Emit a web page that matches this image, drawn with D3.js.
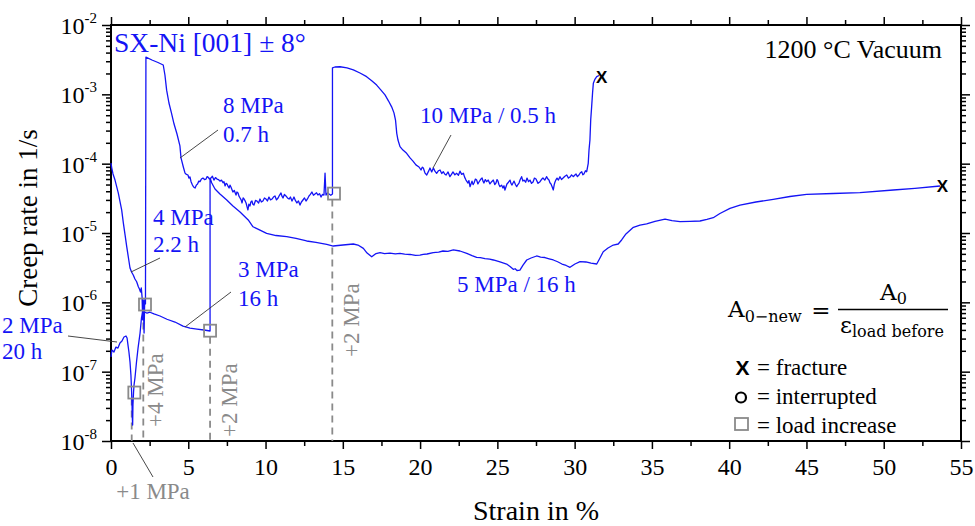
<!DOCTYPE html>
<html><head><meta charset="utf-8">
<script src="https://cdn.jsdelivr.net/npm/d3@7"></script>
<style>
body{margin:0;background:#fff}
svg text{font-family:"Liberation Serif","Times New Roman",Times,serif}
svg text.sans{font-family:"Liberation Sans",Arial,sans-serif}
svg text.math{font-family:"DejaVu Serif",serif}
</style>
</head><body>
<svg id="chart" width="975" height="526"></svg>
<script>
// ---------------- data ----------------
const strainTicks = [0, 5, 10, 15, 20, 25, 30, 35, 40, 45, 50, 55];
const strainMinorTicks = [2.5, 7.5, 12.5, 17.5, 22.5, 27.5, 32.5, 37.5, 42.5, 47.5, 52.5];
const rateExponents = [-8, -7, -6, -5, -4, -3, -2];

// Specimen A: 2 MPa (20 h), +1 MPa -> 3 MPa (16 h)   [strain %, creep rate 1/s]
const creep2to3MPa = [
  [0,1.63e-7],[0.06,2.05e-7],[0.19,1.92e-7],[0.32,2.26e-7],[0.45,2.19e-7],[0.58,2.59e-7],
  [0.71,2.77e-7],[0.84,3.16e-7],[0.97,3.27e-7],[1.04,3.06e-7],[1.10,2.42e-7],[1.16,1.92e-7],
  [1.23,1.38e-7],[1.29,8.9e-8],[1.33,5.4e-8],[1.36,3.3e-8],[1.38,2.15e-8],[1.40,1.7e-8],
  [1.42,3.3e-8],[1.46,5.1e-8],[1.49,6.4e-8],[1.55,8.1e-8],[1.65,1.38e-7],[1.75,2.19e-7],
  [1.88,3.6e-7],[1.97,5.9e-7],[2.07,7.7e-7],[2.20,7.2e-7],[2.33,7.0e-7],[2.52,7.2e-7],
  [2.78,6.8e-7],[3.17,6.35e-7],[3.62,5.7e-7],[4.14,5.2e-7],[4.66,4.55e-7],[5.11,4.26e-7],
  [5.56,4.12e-7],[6.02,3.99e-7],[6.41,3.86e-7]
];
// Specimen A after +2 MPa -> 5 MPa (16 h), up to fracture
const creep5MPa = [
  [6.41,6.2e-5],[6.52,5.26e-5],[6.73,4.31e-5],[7.05,3.65e-5],[7.49,2.99e-5],[7.89,2.45e-5],
  [8.35,2.01e-5],[8.88,1.54e-5],[9.19,1.23e-5],[9.64,1.1e-5],[10.07,9.9e-6],[10.68,9.2e-6],
  [11.37,8.85e-6],[11.97,8.34e-6],[12.66,7.67e-6],[13.26,7.3e-6],[13.96,6.87e-6],[14.38,6.49e-6],
  [15.01,6.71e-6],[15.68,6.94e-6],[15.98,6.71e-6],[16.33,6.01e-6],[16.57,5.14e-6],[16.87,4.55e-6],
  [17.15,5.06e-6],[17.41,5.2e-6],[17.7,5.05e-6],[18.05,5.14e-6],[18.4,5.0e-6],[18.70,5.09e-6],
  [19.0,4.95e-6],[19.35,4.9e-6],[19.7,4.75e-6],[19.99,4.81e-6],[20.2,4.92e-6],
  [20.45,4.98e-6],[20.85,5.2e-6],[21.2,5.3e-6],[21.48,5.5e-6],[21.8,5.45e-6],[22.15,5.69e-6],[22.58,5.5e-6],[23.02,5.09e-6],
  [23.36,4.73e-6],[23.66,4.46e-6],[23.9,4.4e-6],[24.20,4.28e-6],[24.5,4.2e-6],[24.74,4.08e-6],[25.17,3.82e-6],[25.60,3.57e-6],
  [25.82,3.29e-6],[26.03,2.99e-6],[26.15,3.05e-6],[26.27,2.88e-6],[26.46,2.92e-6],[26.66,3.45e-6],[26.90,4.08e-6],
  [27.18,4.36e-6],[27.54,4.66e-6],[27.8,4.5e-6],[28.08,4.43e-6],[28.35,4.25e-6],[28.62,4.08e-6],[28.9,3.85e-6],[29.18,3.57e-6],[29.45,3.4e-6],[29.70,3.2e-6],
  [30.02,3.57e-6],[30.35,3.86e-6],[30.73,3.82e-6],[31.06,3.69e-6],[31.43,3.57e-6],[31.64,4.36e-6],
  [31.85,5.37e-6],[32.16,6.08e-6],[32.50,6.71e-6],[32.82,6.94e-6],[33.04,7.93e-6],[33.32,9.7e-6],
  [33.80,1.21e-5],[34.23,1.3e-5],[34.66,1.35e-5],[35.20,1.47e-5],[35.85,1.59e-5],[36.30,1.51e-5],
  [36.82,1.46e-5],[37.46,1.47e-5],[38.11,1.49e-5],[38.56,1.57e-5],[38.97,1.66e-5],[39.40,1.91e-5],
  [40.05,2.27e-5],[40.70,2.53e-5],[41.73,2.8e-5],[42.85,3.06e-5],[43.93,3.36e-5],[45.01,3.61e-5],
  [46.72,3.71e-5],[48.46,3.81e-5],[50.62,4.17e-5],[52.02,4.41e-5],[53.64,4.76e-5]
];
// Specimen B: 4 MPa (2.2 h)
const creep4MPa = [
  [0,1.02e-4],[0.05,8.65e-5],[0.13,7.1e-5],[0.26,5.8e-5],[0.47,3.78e-5],[0.69,2.15e-5],
  [0.80,1.39e-5],[0.91,9.4e-6],[1.02,6.3e-6],[1.13,4.36e-6],[1.23,3.13e-6],[1.33,2.74e-6],
  [1.44,2.48e-6],[1.55,2.17e-6],[1.66,1.98e-6],[1.77,1.68e-6],[1.84,1.56e-6],[1.91,1.41e-6],
  [1.96,1.61e-6],[2.01,1.2e-6],[2.05,5.6e-7],[2.09,1.08e-6],[2.14,3.6e-7],[2.18,1.08e-6],
  [2.23,9.5e-7]
];
// Specimen B after +4 MPa -> 8 MPa (0.7 h)
const creep8MPa = [
  [2.26,3.45e-3],[2.65,3.13e-3],[3.04,2.88e-3],[3.38,2.65e-3],[3.49,1.9e-3],[3.60,1.15e-3],
  [3.75,7.5e-4],[3.91,5.4e-4],[4.08,3.73e-4],[4.27,2.68e-4],[4.46,1.8e-4],[4.53,1.21e-4],
  [4.68,8.95e-5],[4.79,7.3e-5],[4.88,7.0e-5],[4.98,6.86e-5],[5.04,6.2e-5],[5.11,6.42e-5],[5.18,5.5e-5],
  [5.27,4.92e-5],[5.35,4.6e-5],[5.44,4.45e-5],[5.52,4.9e-5],[5.60,5.1e-5],[5.68,5.6e-5],[5.76,5.5e-5],
  [5.85,6.0e-5],[5.95,6.2e-5],[6.05,5.9e-5],[6.15,6.0e-5],[6.22,6.5e-5],[6.28,6.4e-5],[6.37,6.0e-5],
  [6.47,6.2e-5],[6.56,6.6e-5],[6.66,5.8e-5],[6.76,6.3e-5],[6.86,6.0e-5],[6.95,5.9e-5],[7.05,5.6e-5],
  [7.15,5.8e-5],[7.25,5.3e-5],[7.31,5.5e-5],[7.38,4.77e-5],[7.45,5.2e-5],[7.51,5.1e-5],[7.58,4.7e-5],
  [7.64,4.45e-5],[7.70,4.9e-5],[7.76,4.6e-5],[7.83,4.2e-5],[7.89,3.9e-5],[7.98,4.1e-5],[8.09,3.53e-5],
  [8.15,3.9e-5],[8.22,3.78e-5],[8.28,3.4e-5],[8.35,3.2e-5],[8.42,3.0e-5],[8.48,2.71e-5],[8.55,3.2e-5],
  [8.61,3.09e-5],[8.68,2.9e-5],[8.74,2.71e-5],[8.80,2.4e-5],[8.86,2.15e-5],[8.92,2.6e-5],[8.99,2.45e-5],
  [9.05,2.8e-5],[9.12,2.89e-5],[9.18,2.6e-5],[9.25,2.53e-5],[9.35,2.95e-5],[9.45,2.89e-5],[9.55,2.7e-5],
  [9.64,3.09e-5],[9.73,2.8e-5],[9.83,2.89e-5],[9.93,3.2e-5],[10.03,3.09e-5],[10.12,2.9e-5],[10.22,3.3e-5],
  [10.32,3.0e-5],[10.42,3.09e-5],[10.51,3.3e-5],[10.61,3.42e-5],[10.71,3.0e-5],[10.81,3.2e-5],[10.90,3.5e-5],
  [11.00,3.78e-5],[11.06,3.4e-5],[11.13,3.2e-5],[11.22,3.6e-5],[11.32,3.42e-5],[11.42,3.2e-5],[11.52,3.09e-5],
  [11.61,3.3e-5],[11.71,2.89e-5],[11.78,3.1e-5],[11.84,3.3e-5],[11.93,2.95e-5],[12.03,2.71e-5],[12.13,2.9e-5],
  [12.23,2.53e-5],[12.32,2.8e-5],[12.42,2.99e-5],[12.52,3.2e-5],[12.62,2.89e-5],[12.71,3.1e-5],[12.81,3.42e-5],
  [12.90,3.6e-5],[13.00,3.9e-5],[13.10,3.5e-5],[13.20,3.65e-5],[13.30,3.8e-5],[13.39,3.53e-5],[13.49,3.7e-5],
  [13.59,3.3e-5],[13.68,3.6e-5],[13.78,3.53e-5],[13.85,7.3e-5],[13.91,3.53e-5],[14.01,3.8e-5],[14.11,3.65e-5],
  [14.22,3.5e-5],[14.33,3.65e-5]
];
// Specimen B after +2 MPa -> 10 MPa (0.5 h), up to fracture
const creep10MPa = [
  [14.33,2.4e-3],[14.49,2.48e-3],[14.82,2.5e-3],[15.27,2.4e-3],[15.68,2.25e-3],[16.11,2.03e-3],
  [16.54,1.8e-3],[16.89,1.56e-3],[17.19,1.36e-3],[17.47,1.15e-3],[17.73,9.8e-4],[17.96,8.0e-4],
  [18.16,6.6e-4],[18.31,5.4e-4],[18.41,4.26e-4],[18.49,2.74e-4],[18.57,2.19e-4],[18.70,1.76e-4],
  [18.89,1.57e-4],[19.13,1.41e-4],[19.35,1.21e-4],[19.54,1.09e-4],[19.73,9.6e-5],[19.93,8.95e-5],
  [20.06,8.1e-5],[20.14,8.9e-5],[20.21,8.65e-5],[20.32,7.3e-5],[20.43,6.86e-5],[20.55,7.8e-5],[20.64,8.65e-5],
  [20.75,7.6e-5],[20.86,8.65e-5],[20.96,7.8e-5],[21.07,7.26e-5],[21.18,7.9e-5],[21.29,8.1e-5],[21.40,7.2e-5],[21.50,7.66e-5],
  [21.59,7.1e-5],[21.68,6.86e-5],[21.81,7.6e-5],[21.93,6.49e-5],[22.03,7.0e-5],[22.13,7.6e-5],[22.25,6.9e-5],[22.37,7.26e-5],[22.48,6.8e-5],[22.58,7.8e-5],
  [22.69,7.0e-5],[22.80,7.26e-5],[22.88,6.4e-5],[22.97,5.8e-5],[23.10,5.26e-5],[23.16,5.7e-5],[23.23,4.66e-5],[23.36,5.6e-5],[23.43,5.0e-5],[23.49,5.26e-5],
  [23.58,6.0e-5],[23.66,5.8e-5],[23.74,5.1e-5],[23.81,5.44e-5],[23.91,5.9e-5],[24.01,6.2e-5],[24.07,5.6e-5],[24.13,5.26e-5],[24.22,5.9e-5],[24.31,5.5e-5],[24.41,5.8e-5],[24.52,5.1e-5],
  [24.63,5.5e-5],[24.74,5.8e-5],[24.83,5.0e-5],[24.91,5.26e-5],[24.98,5.9e-5],[25.04,5.6e-5],[25.10,5.0e-5],[25.17,4.66e-5],[25.27,4.9e-5],[25.36,4.45e-5],[25.43,4.8e-5],[25.49,4.17e-5],
  [25.62,5.1e-5],[25.72,5.4e-5],[25.82,5.8e-5],[25.88,5.2e-5],[25.95,4.92e-5],[26.02,5.3e-5],[26.08,5.6e-5],[26.17,5.0e-5],[26.25,4.66e-5],[26.33,5.0e-5],[26.40,5.26e-5],
  [26.48,5.9e-5],[26.57,6.49e-5],[26.65,5.6e-5],[26.73,5.8e-5],[26.83,5.4e-5],[26.92,6.2e-5],[27.02,5.5e-5],[27.11,5.8e-5],[27.21,5.2e-5],[27.31,5.44e-5],[27.40,6.2e-5],[27.50,6.0e-5],
  [27.63,5.2e-5],[27.76,5.5e-5],[27.85,5.9e-5],[27.95,6.2e-5],[28.07,5.8e-5],[28.19,6.49e-5],[28.27,6.0e-5],[28.34,5.8e-5],[28.40,5.3e-5],[28.47,5.1e-5],[28.55,4.6e-5],[28.62,4.17e-5],
  [28.68,5.0e-5],[28.73,5.44e-5],[28.80,5.9e-5],[28.86,6.2e-5],[28.95,5.8e-5],[29.05,6.49e-5],[29.15,5.9e-5],[29.25,6.2e-5],[29.37,6.6e-5],[29.49,6.86e-5],[29.60,6.2e-5],[29.70,6.42e-5],
  [29.80,6.9e-5],[29.91,6.49e-5],[30.00,6.8e-5],[30.09,7.1e-5],[30.18,6.5e-5],[30.28,6.86e-5],[30.37,7.4e-5],[30.46,7.66e-5],[30.53,6.9e-5],[30.60,7.1e-5],[30.70,7.9e-5],[30.78,7.66e-5],
  [30.88,1.01e-4],[30.93,1.57e-4],[30.99,2.19e-4],[31.04,4.26e-4],[31.10,6.6e-4],[31.16,1.05e-3],
  [31.21,1.44e-3],[31.32,1.66e-3],[31.43,1.8e-3],[31.58,1.87e-3]
];

// Load increases: marker position and the strain of the guide line below it
const loadIncreases = [
  { strain: 1.51,  rate: 5.0e-8, guideStrain: 1.34,  label: "+1 MPa" },
  { strain: 2.20,  rate: 9.3e-7, guideStrain: 2.09,  label: "+4 MPa" },
  { strain: 6.41,  rate: 3.9e-7, guideStrain: 6.41,  label: "+2 MPa" },
  { strain: 14.43, rate: 3.7e-5, guideStrain: 14.32, label: "+2 MPa" }
];
const fractures = [[31.75, 1.8e-3], [53.8, 4.8e-5]];

// ---------------- layout ----------------
const svg = d3.select("#chart");
const W = 975, H = 526;
const plot = { left: 111, right: 961, top: 25, bottom: 441 };
const blue = "#1414f5";
const grey = "#8a8a8a";

const x = d3.scaleLinear().domain([0, 55]).range([plot.left, plot.right]);
const y = d3.scaleLog().domain([1e-8, 1e-2]).range([plot.bottom, plot.top]);

svg.append("rect").attr("width", W).attr("height", H).attr("fill", "#fff");

// ---------------- axes ----------------
const majorRates = rateExponents.map(e => Math.pow(10, e));
const minorRates = [];
rateExponents.slice(0, -1).forEach(e => { for (let d = 2; d <= 9; d++) minorRates.push(d * Math.pow(10, e)); });

function styleAxis(g) {
  g.attr("font-family", null);
  g.select(".domain").remove();
  g.selectAll(".tick line").attr("stroke", "#000").attr("stroke-width", 1.5);
}
const axes = svg.append("g");
axes.append("g").attr("transform", `translate(0,${plot.bottom})`)
  .call(d3.axisBottom(x).tickValues(strainTicks).tickSize(8).tickPadding(9).tickFormat(d3.format("d")))
  .call(styleAxis)
  .call(g => g.selectAll("text").attr("font-size", 24).attr("fill", "#000"));
axes.append("g").attr("transform", `translate(0,${plot.bottom})`)
  .call(d3.axisBottom(x).tickValues(strainMinorTicks).tickSize(5).tickFormat("")).call(styleAxis);
axes.append("g").attr("transform", `translate(0,${plot.top})`)
  .call(d3.axisTop(x).tickValues(strainTicks).tickSize(8).tickFormat("")).call(styleAxis);
axes.append("g").attr("transform", `translate(0,${plot.top})`)
  .call(d3.axisTop(x).tickValues(strainMinorTicks).tickSize(5).tickFormat("")).call(styleAxis);

const leftAxis = axes.append("g").attr("transform", `translate(${plot.left},0)`)
  .call(d3.axisLeft(y).tickValues(majorRates).tickSize(9).tickFormat("")).call(styleAxis);
axes.append("g").attr("transform", `translate(${plot.left},0)`)
  .call(d3.axisLeft(y).tickValues(minorRates).tickSize(5).tickFormat("")).call(styleAxis);
axes.append("g").attr("transform", `translate(${plot.right},0)`)
  .call(d3.axisRight(y).tickValues(majorRates).tickSize(9).tickFormat("")).call(styleAxis);
axes.append("g").attr("transform", `translate(${plot.right},0)`)
  .call(d3.axisRight(y).tickValues(minorRates).tickSize(5).tickFormat("")).call(styleAxis);

// power-of-ten labels
leftAxis.selectAll(".tick").each(function (d) {
  const t = d3.select(this).append("text")
    .attr("x", -14).attr("y", 8.5).attr("text-anchor", "end")
    .attr("font-size", 24).attr("fill", "#000");
  t.append("tspan").text("10");
  t.append("tspan").attr("dy", -11).attr("font-size", 15).text(String(Math.round(Math.log10(d))));
});

// frame
svg.append("rect")
  .attr("x", plot.left).attr("y", plot.top)
  .attr("width", plot.right - plot.left).attr("height", plot.bottom - plot.top)
  .attr("fill", "none").attr("stroke", "#000").attr("stroke-width", 2);

// axis titles
svg.append("text").attr("x", (plot.left + plot.right) / 2).attr("y", 520)
  .attr("text-anchor", "middle").attr("font-size", 28)
  .text("Strain in %");
svg.append("text").attr("transform", "translate(37,218) rotate(-90)")
  .attr("text-anchor", "middle").attr("font-size", 27)
  .text("Creep rate in 1/s");

// ---------------- load-increase guides ----------------
const guides = svg.append("g");
loadIncreases.forEach(s => {
  guides.append("line")
    .attr("x1", x(s.guideStrain)).attr("x2", x(s.guideStrain))
    .attr("y1", y(s.rate) + 6).attr("y2", plot.bottom)
    .attr("stroke", grey).attr("stroke-width", 1.8).attr("stroke-dasharray", "7,5");
});

// ---------------- curves ----------------
const line = d3.line().x(d => x(d[0])).y(d => y(d[1]));
const specimens = [
  [...creep2to3MPa, ...creep5MPa],
  [...creep4MPa, ...creep8MPa, ...creep10MPa]
];
svg.append("g").selectAll("path").data(specimens).join("path")
  .attr("d", line).attr("fill", "none").attr("stroke", blue)
  .attr("stroke-width", 1.3).attr("stroke-linejoin", "round");

// load-increase markers
svg.append("g").selectAll("rect").data(loadIncreases).join("rect")
  .attr("x", d => x(d.strain) - 6).attr("y", d => y(d.rate) - 6)
  .attr("width", 12).attr("height", 12)
  .attr("fill", "none").attr("stroke", grey).attr("stroke-width", 1.8);

// fracture markers
svg.append("g").selectAll("text").data(fractures).join("text")
  .attr("class", "sans")
  .attr("x", d => x(d[0])).attr("y", d => y(d[1])).attr("dy", "0.36em")
  .attr("text-anchor", "middle").attr("font-weight", "bold")
  .attr("font-size", 17).attr("fill", "#000").text("X");

// ---------------- annotations ----------------
const ann = svg.append("g");
function label(lines, x0, y0, size, color, gap) {
  lines.forEach((s, i) => ann.append("text").attr("x", x0).attr("y", y0 + i * gap)
    .attr("font-size", size).attr("fill", color).text(s));
}
function leader(x1, y1, x2, y2) {
  ann.append("line").attr("x1", x1).attr("y1", y1).attr("x2", x2).attr("y2", y2)
    .attr("stroke", "#333").attr("stroke-width", 0.9);
}
label(["SX-Ni [001] ± 8°"], 114, 52, 27.5, blue, 0);
ann.append("text").attr("x", 942).attr("y", 58).attr("text-anchor", "end")
  .attr("font-size", 26).attr("fill", "#000").text("1200 °C Vacuum");

label(["8 MPa", "0.7 h"], 223, 113, 23, blue, 29);
leader(218, 130, 180, 158);
label(["4 MPa", "2.2 h"], 153, 225, 23, blue, 27);
leader(160, 258, 131, 272);
label(["3 MPa", "16 h"], 238, 277, 23, blue, 29);
leader(231, 292, 185, 327);
label(["2 MPa", "20 h"], 2, 333, 23, blue, 26);
leader(68, 336, 117, 342);
label(["10 MPa / 0.5 h"], 420, 123, 23, blue, 0);
leader(451, 135, 433, 168);
label(["5 MPa / 16 h"], 457, 292, 23, blue, 0);

// load step labels
ann.append("text").attr("x", 153).attr("y", 499).attr("text-anchor", "middle")
  .attr("font-size", 23).attr("fill", grey).text(loadIncreases[0].label);
leader(133, 443, 153, 477);
[[1, 163, 427], [2, 237, 437], [3, 359, 357]].forEach(([i, bx, by]) => {
  ann.append("text").attr("transform", `translate(${bx},${by}) rotate(-90)`)
    .attr("font-size", 23).attr("fill", grey).text(loadIncreases[i].label);
});

// formula A0-new = A0 / eps_load before
const f = svg.append("g").attr("fill", "#000");
const lhs = f.append("text").attr("class", "math").attr("x", 728).attr("y", 317).attr("font-size", 23);
lhs.append("tspan").text("A");
lhs.append("tspan").attr("dy", 5).attr("font-size", 16).text("0−new");
f.append("text").attr("class", "math").attr("x", 821).attr("y", 318).attr("text-anchor", "middle").attr("font-size", 23).text("=");
f.append("line").attr("x1", 838).attr("x2", 948).attr("y1", 309.5).attr("y2", 309.5)
  .attr("stroke", "#000").attr("stroke-width", 1.3);
const num = f.append("text").attr("class", "math").attr("x", 880).attr("y", 300).attr("font-size", 23);
num.append("tspan").text("A");
num.append("tspan").attr("dy", 4).attr("font-size", 16).text("0");
const den = f.append("text").attr("class", "math").attr("x", 840).attr("y", 333).attr("font-size", 23);
den.append("tspan").text("ε");
den.append("tspan").attr("dy", 4).attr("font-size", 16).text("load before");

// legend
const lg = svg.append("g");
lg.append("text").attr("class", "sans").attr("x", 742.5).attr("y", 375).attr("text-anchor", "middle")
  .attr("font-weight", "bold").attr("font-size", 21).text("X");
lg.append("text").attr("x", 757).attr("y", 375).attr("font-size", 23).text("= fracture");
lg.append("circle").attr("cx", 741).attr("cy", 397.5).attr("r", 5)
  .attr("fill", "none").attr("stroke", "#000").attr("stroke-width", 2.2);
lg.append("text").attr("x", 757).attr("y", 404).attr("font-size", 23).text("= interrupted");
lg.append("rect").attr("x", 735).attr("y", 418).attr("width", 13).attr("height", 12)
  .attr("fill", "none").attr("stroke", grey).attr("stroke-width", 1.8);
lg.append("text").attr("x", 757).attr("y", 433).attr("font-size", 23).text("= load increase");
</script>
</body></html>
